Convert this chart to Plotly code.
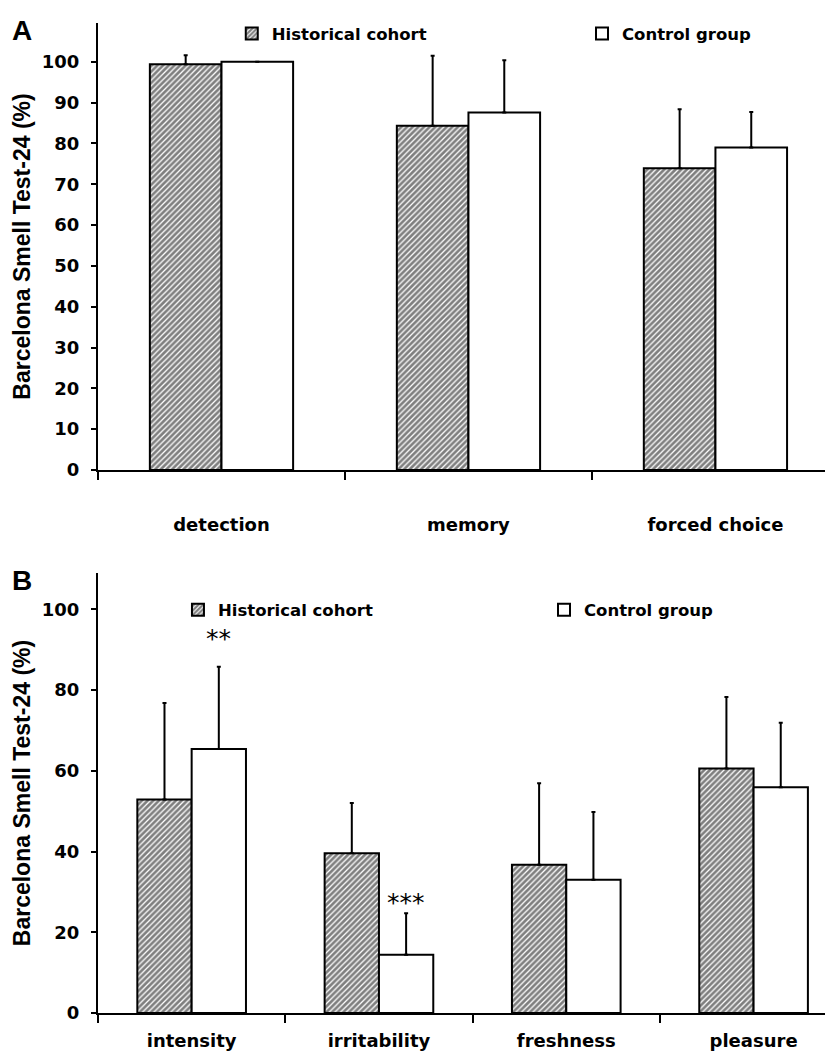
import plotly.graph_objects as go

# ---- data ----
cats_a = ["detection", "memory", "forced choice"]
hist_a = [99.4, 84.3, 73.9]
hist_a_err = [2.2, 17.2, 14.5]
ctrl_a = [100.0, 87.6, 79.0]
ctrl_a_err = [0.0, 12.8, 8.7]

cats_b = ["intensity", "irritability", "freshness", "pleasure"]
hist_b = [52.9, 39.6, 36.7, 60.6]
hist_b_err = [23.9, 12.4, 20.2, 17.7]
ctrl_b = [65.4, 14.4, 33.0, 55.9]
ctrl_b_err = [20.4, 10.3, 16.8, 16.0]

sig_cats = ["intensity", "irritability"]
sig_text = ["**", "***"]

series_names = ["Historical cohort", "Control group"]
y_title = "Barcelona Smell Test-24 (%)"

# ---- style ----
BLACK = "black"
hatch = dict(shape="/", fgcolor=BLACK, bgcolor="white", size=4, solidity=0.68)
TICKFONT = dict(family="DejaVu Sans", size=18, color=BLACK, weight="bold")
CATFONT = dict(family="DejaVu Sans", size=18, color=BLACK, weight="bold")
LEGFONT = dict(family="DejaVu Sans", size=16.5, color=BLACK, weight="bold")
TITLEFONT = dict(family="Liberation Sans", size=23, color=BLACK, weight="bold")


def err(vals):
    return dict(type="data", array=vals, arrayminus=[0] * len(vals), symmetric=False,
                color=BLACK, thickness=2, width=2, visible=True)


fig = go.Figure()
fig.add_trace(go.Bar(x=cats_a, y=hist_a, error_y=err(hist_a_err), name=series_names[0],
                     marker=dict(color="white", line=dict(color=BLACK, width=2), pattern=hatch),
                     xaxis="x", yaxis="y", legend="legend", offsetgroup="h"))
fig.add_trace(go.Bar(x=cats_a, y=ctrl_a, error_y=err(ctrl_a_err), name=series_names[1],
                     marker=dict(color="white", line=dict(color=BLACK, width=2)),
                     xaxis="x", yaxis="y", legend="legend2", offsetgroup="c"))
fig.add_trace(go.Bar(x=cats_b, y=hist_b, error_y=err(hist_b_err), name=series_names[0],
                     marker=dict(color="white", line=dict(color=BLACK, width=2), pattern=hatch),
                     xaxis="x2", yaxis="y2", legend="legend3", offsetgroup="h"))
fig.add_trace(go.Bar(x=cats_b, y=ctrl_b, error_y=err(ctrl_b_err), name=series_names[1],
                     marker=dict(color="white", line=dict(color=BLACK, width=2)),
                     xaxis="x2", yaxis="y2", legend="legend4", offsetgroup="c"))

# significance marks above the control-group bars
sig_shift = [3.0, -1.5]
for c, t, sh in zip(sig_cats, sig_text, sig_shift):
    i = cats_b.index(c)
    top = ctrl_b[i] + ctrl_b_err[i] + sh
    fig.add_annotation(x=i + 0.145, y=top, xref="x2", yref="y2", text=t, showarrow=False,
                       yanchor="bottom", font=dict(family="DejaVu Sans", size=25, color=BLACK))

# panel letters
fig.add_annotation(x=-0.12, y=1.01, xref="paper", yref="paper", text="<b>A</b>", showarrow=False,
                   xanchor="left", yanchor="top", font=dict(family="Liberation Sans", size=28, color=BLACK))
fig.add_annotation(x=-0.12, y=0.455, xref="paper", yref="paper", text="<b>B</b>", showarrow=False,
                   xanchor="left", yanchor="top", font=dict(family="Liberation Sans", size=28, color=BLACK))

yax = dict(showgrid=False, zeroline=False, showline=True, linecolor=BLACK, linewidth=2,
           ticks="outside", ticklen=5, tickwidth=2, tickcolor=BLACK, tickfont=TICKFONT,
           ticklabelstandoff=8, automargin=False,
           title=dict(text=y_title, font=TITLEFONT, standoff=5))
xax = dict(showgrid=False, zeroline=False, showline=True, linecolor=BLACK, linewidth=2,
           ticks="outside", ticklen=8, tickwidth=2, tickcolor=BLACK, tickson="boundaries",
           tickfont=CATFONT, automargin=False, type="category")

leg = dict(xanchor="left", yanchor="middle", font=LEGFONT, bgcolor="rgba(0,0,0,0)",
           borderwidth=0, itemwidth=30)

# the page body has an 8px margin, so the figure is 8px smaller than the window
fig.update_layout(
    width=825, height=1044,
    margin=dict(l=90, r=0, t=15, b=39, autoexpand=False),
    paper_bgcolor="white", plot_bgcolor="white",
    barmode="group", bargap=0.42, bargroupgap=0,
    xaxis=dict(xax, domain=[0, 1], anchor="y", range=[-0.5, 2.476], ticklabelstandoff=37),
    yaxis=dict(yax, domain=[0.5485, 1], anchor="x", range=[0, 109.5], dtick=10, tick0=0),
    xaxis2=dict(xax, domain=[0, 1], anchor="y2", range=[-0.5, 3.424], ticklabelstandoff=10),
    yaxis2=dict(yax, domain=[0, 0.4444], anchor="x2", range=[0, 109], dtick=20, tick0=0),
    legend=dict(leg, x=0.182, y=0.989),
    legend2=dict(leg, x=0.6585, y=0.989),
    legend3=dict(leg, x=0.1088, y=0.407),
    legend4=dict(leg, x=0.6068, y=0.407),
    showlegend=True,
)

fig.write_html("out.html")
